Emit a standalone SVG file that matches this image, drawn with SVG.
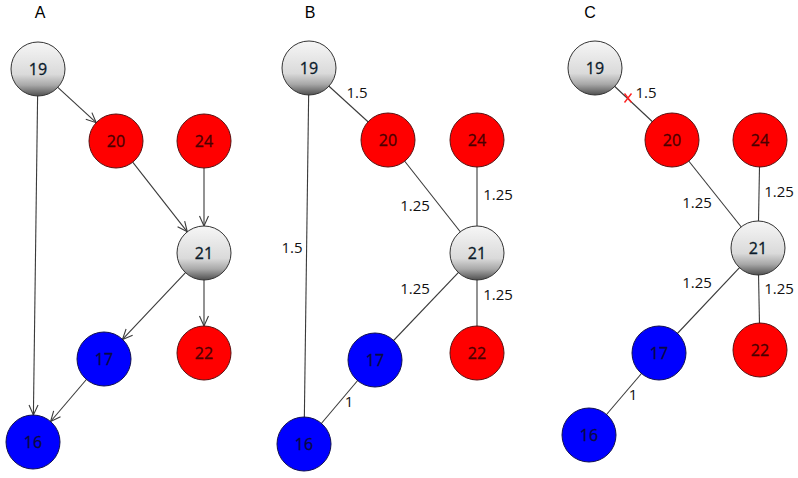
<svg xmlns="http://www.w3.org/2000/svg" width="798" height="478" viewBox="0 0 798 478">
<style>
.title{font-family:"Liberation Sans",Arial,sans-serif;font-size:16px;fill:#000;text-anchor:middle}
.lbl{font-family:"Open Sans","Liberation Sans",Arial,sans-serif;font-size:15px;fill:#111;text-anchor:middle}
.num{font-family:"Open Sans","Liberation Sans",Arial,sans-serif;font-size:16px;text-anchor:middle;stroke-width:0.3}
.gray{fill:url(#gg);stroke:#333;stroke-width:1}
.red{fill:#ff0000;stroke:#5a1010;stroke-width:1}
.blue{fill:#0000ff;stroke:#101050;stroke-width:1}
.gt{fill:#0a1a2a;stroke:#0a1a2a}
.rt{fill:#4a0000;stroke:#4a0000}
.bt{fill:#0a0a40;stroke:#0a0a40}
.e{stroke:#3a3a3a;stroke-width:1.1;fill:none}
.ea{stroke:#3a3a3a;stroke-width:1.1;fill:none;marker-end:url(#arr)}
</style>
<defs>
<linearGradient id="gg" x1="0" y1="0" x2="0" y2="1">
<stop offset="0" stop-color="#f6f6f6"/>
<stop offset="0.6" stop-color="#dadada"/>
<stop offset="0.8" stop-color="#a8a8a8"/>
<stop offset="1" stop-color="#505050"/>
</linearGradient>
<marker id="arr" markerUnits="userSpaceOnUse" markerWidth="12" markerHeight="12" refX="11" refY="6" orient="auto">
<path d="M1,1.5 L11,6 L1,10.5" fill="none" stroke="#3a3a3a" stroke-width="1.1"/>
</marker>
</defs>
<text class="title" x="40" y="18">A</text>
<text class="title" x="310" y="18">B</text>
<text class="title" x="590" y="18">C</text>
<g id="connectors">
<line class="ea" x1="57.8" y1="87.3" x2="96.2" y2="122.7"/>
<line class="ea" x1="37.6" y1="96" x2="33.4" y2="415"/>
<line class="ea" x1="132.7" y1="162.2" x2="187.3" y2="231.8"/>
<line class="ea" x1="204" y1="168" x2="204" y2="226"/>
<line class="ea" x1="185.5" y1="272.6" x2="122.5" y2="339.4"/>
<line class="ea" x1="204" y1="280" x2="204" y2="326"/>
<line class="ea" x1="86.4" y1="379.5" x2="50.6" y2="421.5"/>
<line class="e" x1="309" y1="68" x2="388" y2="140"/>
<line class="e" x1="309" y1="68" x2="304" y2="444"/>
<line class="e" x1="388" y1="140" x2="477" y2="253"/>
<line class="e" x1="477" y1="140" x2="477" y2="253"/>
<line class="e" x1="477" y1="253" x2="375" y2="360"/>
<line class="e" x1="477" y1="253" x2="477" y2="353"/>
<line class="e" x1="375" y1="360" x2="304" y2="444"/>
<line class="e" x1="595" y1="68" x2="672" y2="140"/>
<line class="e" x1="672" y1="140" x2="758" y2="248"/>
<line class="e" x1="760" y1="140" x2="758" y2="248"/>
<line class="e" x1="758" y1="248" x2="659" y2="353"/>
<line class="e" x1="758" y1="248" x2="760" y2="350"/>
<line class="e" x1="659" y1="353" x2="589" y2="435"/>
<path d="M624.5,93.5 L631.5,102.5 M631.5,93.5 L624.5,102.5" stroke="#ff2020" stroke-width="1.4" fill="none"/>
<text class="lbl" x="357" y="98">1.5</text>
<text class="lbl" x="292" y="253">1.5</text>
<text class="lbl" x="415" y="211">1.25</text>
<text class="lbl" x="498" y="200">1.25</text>
<text class="lbl" x="415" y="294">1.25</text>
<text class="lbl" x="498" y="300">1.25</text>
<text class="lbl" x="349" y="407">1</text>
<text class="lbl" x="646" y="98">1.5</text>
<text class="lbl" x="697" y="208">1.25</text>
<text class="lbl" x="779" y="197">1.25</text>
<text class="lbl" x="697" y="288">1.25</text>
<text class="lbl" x="779" y="294">1.25</text>
<text class="lbl" x="633" y="400">1</text>
</g>
<g id="A19"><circle class="gray" cx="38" cy="69" r="27"/><text class="num gt" x="38" y="75">19</text></g>
<g id="A20"><circle class="red" cx="116" cy="141" r="27"/><text class="num rt" x="116" y="147">20</text></g>
<g id="A24"><circle class="red" cx="204" cy="141" r="27"/><text class="num rt" x="204" y="147">24</text></g>
<g id="A21"><circle class="gray" cx="204" cy="253" r="27"/><text class="num gt" x="204" y="259">21</text></g>
<g id="A17"><circle class="blue" cx="104" cy="359" r="27"/><text class="num bt" x="104" y="365">17</text></g>
<g id="A22"><circle class="red" cx="204" cy="353" r="27"/><text class="num rt" x="204" y="359">22</text></g>
<g id="A16"><circle class="blue" cx="33" cy="442" r="27"/><text class="num bt" x="33" y="448">16</text></g>
<g id="B19"><circle class="gray" cx="309" cy="68" r="27"/><text class="num gt" x="309" y="74">19</text></g>
<g id="B20"><circle class="red" cx="388" cy="140" r="27"/><text class="num rt" x="388" y="146">20</text></g>
<g id="B24"><circle class="red" cx="477" cy="140" r="27"/><text class="num rt" x="477" y="146">24</text></g>
<g id="B21"><circle class="gray" cx="477" cy="253" r="27"/><text class="num gt" x="477" y="259">21</text></g>
<g id="B17"><circle class="blue" cx="375" cy="360" r="27"/><text class="num bt" x="375" y="366">17</text></g>
<g id="B22"><circle class="red" cx="477" cy="353" r="27"/><text class="num rt" x="477" y="359">22</text></g>
<g id="B16"><circle class="blue" cx="304" cy="444" r="27"/><text class="num bt" x="304" y="450">16</text></g>
<g id="C19"><circle class="gray" cx="595" cy="68" r="27"/><text class="num gt" x="595" y="74">19</text></g>
<g id="C20"><circle class="red" cx="672" cy="140" r="27"/><text class="num rt" x="672" y="146">20</text></g>
<g id="C24"><circle class="red" cx="760" cy="140" r="27"/><text class="num rt" x="760" y="146">24</text></g>
<g id="C21"><circle class="gray" cx="758" cy="248" r="27"/><text class="num gt" x="758" y="254">21</text></g>
<g id="C17"><circle class="blue" cx="659" cy="353" r="27"/><text class="num bt" x="659" y="359">17</text></g>
<g id="C22"><circle class="red" cx="760" cy="350" r="27"/><text class="num rt" x="760" y="356">22</text></g>
<g id="C16"><circle class="blue" cx="589" cy="435" r="27"/><text class="num bt" x="589" y="441">16</text></g>
</svg>
